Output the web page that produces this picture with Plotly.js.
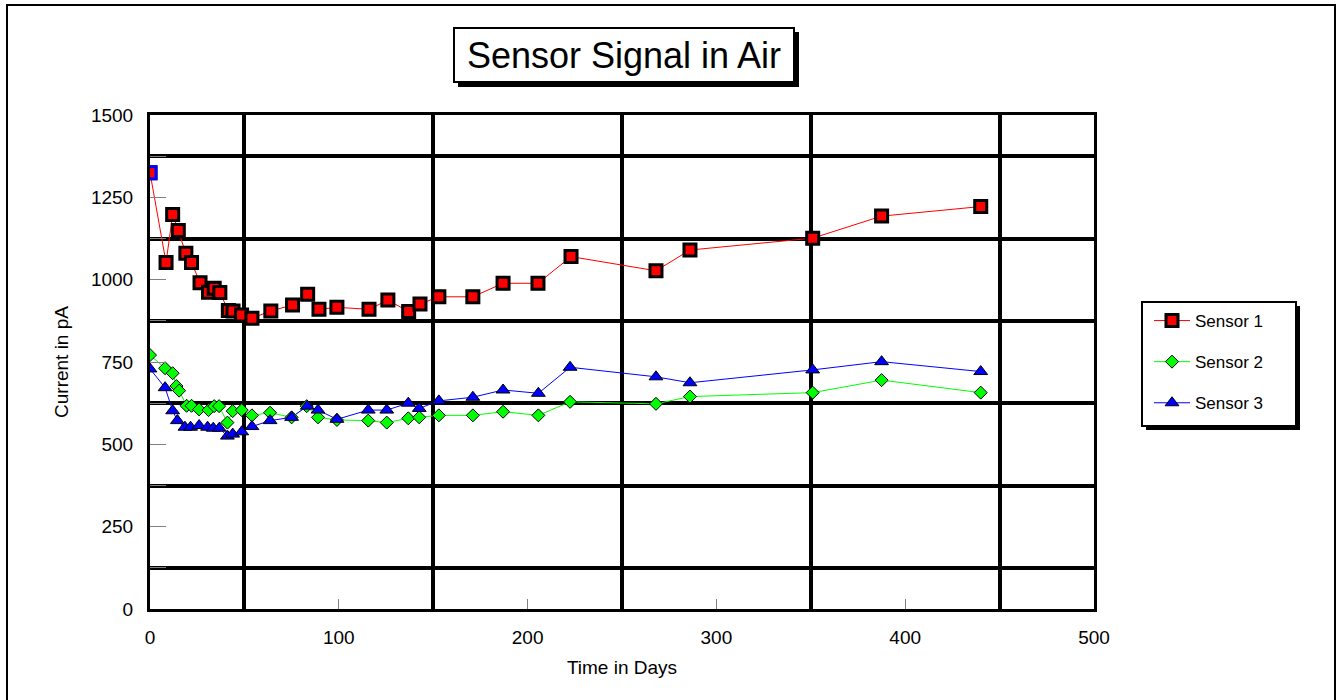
<!DOCTYPE html>
<html>
<head>
<meta charset="utf-8">
<script src="https://cdn.plot.ly/plotly-3.0.1.min.js"></script>
<style>
html,body{margin:0;padding:0;background:#fff;}
#chart{width:1338px;height:700px;}
</style>
</head>
<body>
<div id="chart"></div>
<script>
// ---- data ----
const seriesNames = ["Sensor 1", "Sensor 2", "Sensor 3"];

const days1 = [0, 8.5, 12, 15, 19, 22, 26.5, 31, 34, 37, 41.5, 44, 48.5, 54, 64, 75.5, 83.5, 89.5, 99, 116, 126, 137, 143, 153, 171, 187, 205.5, 223, 268, 286, 351, 387.5, 440];
const sensor1 = [1325, 1052, 1198, 1149, 1080, 1052, 991, 962, 974, 961, 906, 905, 893, 883, 905, 923, 956, 910, 916, 910, 938, 903, 926, 948, 948, 989, 989, 1070, 1027, 1090, 1126, 1193, 1222];

const days2 = [0, 8, 12, 14, 15.4, 19.4, 22, 26, 31, 34, 36.6, 41, 43.8, 48.6, 54, 63.6, 75, 83, 89, 99, 115.6, 125.4, 136.8, 142.6, 153, 171, 187, 205.7, 222.5, 268, 286, 351, 387.5, 440];
const sensor2 = [771, 731, 716, 677, 663, 617, 617, 606, 604, 616, 616, 566, 601, 604, 588, 596, 582, 616, 582, 574, 572, 566, 579, 582, 588, 588, 599, 588, 629, 623, 645, 657, 695, 657];

const days3 = [0, 8, 12, 14.5, 18.5, 21.5, 26, 30.5, 33.5, 36.7, 41, 43.8, 48.6, 54, 63.6, 75, 83.3, 89, 99, 115.6, 125.4, 136.8, 142.6, 153, 171, 187, 205.7, 222.5, 268, 286, 351, 387.5, 440];
const sensor3 = [729, 672, 602, 572, 552, 552, 557, 552, 549, 549, 525, 531, 538, 554, 572, 582, 616, 604, 576, 604, 604, 625, 609, 632, 643, 665, 655, 734, 705, 687, 726, 751, 721];

const xTickVals = [0, 100, 200, 300, 400, 500];
const yTickVals = [0, 250, 500, 750, 1000, 1250, 1500];

const titleText = "Sensor Signal in Air";
const xTitle = "Time in Days";
const yTitle = "Current in pA";

// ---- layout geometry ----
const W = 1338, H = 700;
const L = 150, R = 1094, T = 115, B = 609;
const pw = R - L, ph = B - T;
const px = v => (v - L) / pw;       // pixel -> paper x
const py = v => (B - v) / ph;       // pixel -> paper y

const font = "Liberation Sans, Arial, sans-serif";

const traces = [
  {
    x: days1, y: sensor1, name: seriesNames[0], legendgroup: "g1",
    type: "scatter", mode: "lines+markers",
    line: {color: "#ff0000", width: 1},
    marker: {symbol: "square", size: 12, color: "#ff0000", line: {color: "#000000", width: 3}}
  },
  {
    // selected first point of Sensor 1 (blue outline in the reference)
    x: days1.slice(0, 1), y: sensor1.slice(0, 1), name: seriesNames[0], legendgroup: "g1",
    showlegend: false, type: "scatter", mode: "markers",
    marker: {symbol: "square", size: 12, color: "#ff0000", line: {color: "#0000ff", width: 3}}
  },
  {
    x: days2, y: sensor2, name: seriesNames[1], legendgroup: "g2",
    type: "scatter", mode: "lines+markers",
    line: {color: "#00ff00", width: 1},
    marker: {symbol: "diamond", size: 10, color: "#00ff00", line: {color: "#000000", width: 1}}
  },
  {
    x: days3, y: sensor3, name: seriesNames[2], legendgroup: "g3",
    type: "scatter", mode: "lines+markers",
    line: {color: "#0000ff", width: 1},
    marker: {symbol: "triangle-up", size: 12, color: "#0000ff", line: {color: "#000000", width: 1}}
  }
];

const layout = {
  width: W, height: H,
  margin: {l: L, r: W - R, t: T, b: H - B, pad: 0},
  paper_bgcolor: "#ffffff",
  plot_bgcolor: "#ffffff",
  font: {family: font, size: 19, color: "#000000"},
  showlegend: true,
  legend: {
    x: px(1149), y: py(303), xanchor: "left", yanchor: "top",
    bgcolor: "rgba(0,0,0,0)", borderwidth: 0,
    font: {family: font, size: 17, color: "#000000"},
    traceorder: "grouped", tracegroupgap: 16, itemwidth: 36
  },
  xaxis: {
    range: [0, 500], tickmode: "array", tickvals: xTickVals,
    ticks: "inside", ticklen: 10, tickwidth: 1, tickcolor: "#808080",
    showgrid: false, zeroline: false,
    showline: true, linecolor: "#000000", linewidth: 3, mirror: true,
    ticklabelstandoff: 9,
    tickfont: {family: font, size: 19, color: "#000000"},
    title: {text: xTitle, font: {family: font, size: 19, color: "#000000"}, standoff: 14},
    minor: {tick0: 50, dtick: 100, showgrid: true, gridcolor: "#000000", gridwidth: 4, ticks: ""}
  },
  yaxis: {
    range: [0, 1500], tickmode: "array", tickvals: yTickVals,
    ticks: "inside", ticklen: 16, tickwidth: 1, tickcolor: "#808080",
    showgrid: false, zeroline: false,
    showline: true, linecolor: "#000000", linewidth: 3, mirror: true,
    ticklabelstandoff: 10,
    tickfont: {family: font, size: 19, color: "#000000"},
    title: {text: yTitle, font: {family: font, size: 19, color: "#000000"}, standoff: 18},
    minor: {tick0: 125, dtick: 250, showgrid: true, gridcolor: "#000000", gridwidth: 4, ticks: "inside", ticklen: 16, tickcolor: "#808080"}
  },
  shapes: [
    // outer chart frame
    {type: "rect", xref: "paper", yref: "paper", x0: px(7), x1: px(1335), y0: py(5), y1: py(704),
     line: {color: "#000000", width: 2}, fillcolor: "rgba(0,0,0,0)", layer: "below"},
    // title shadow
    {type: "rect", xref: "paper", yref: "paper", x0: px(458), x1: px(799), y0: py(32), y1: py(87),
     line: {width: 0}, fillcolor: "#000000", layer: "above"},
    // legend shadow
    {type: "rect", xref: "paper", yref: "paper", x0: px(1146), x1: px(1300), y0: py(306), y1: py(430),
     line: {width: 0}, fillcolor: "#000000", layer: "above"},
    // legend box
    {type: "rect", xref: "paper", yref: "paper", x0: px(1142), x1: px(1296), y0: py(302), y1: py(426),
     line: {color: "#000000", width: 2}, fillcolor: "#ffffff", layer: "above"}
  ],
  annotations: [
    {text: titleText, xref: "paper", yref: "paper", x: px(624), y: py(55),
     xanchor: "center", yanchor: "middle", showarrow: false,
     width: 338, height: 52, bgcolor: "#ffffff", bordercolor: "#000000", borderwidth: 2, borderpad: 0,
     font: {family: font, size: 36, color: "#000000"}}
  ]
};

Plotly.newPlot("chart", traces, layout, {displayModeBar: false, staticPlot: true});
</script>
</body>
</html>
